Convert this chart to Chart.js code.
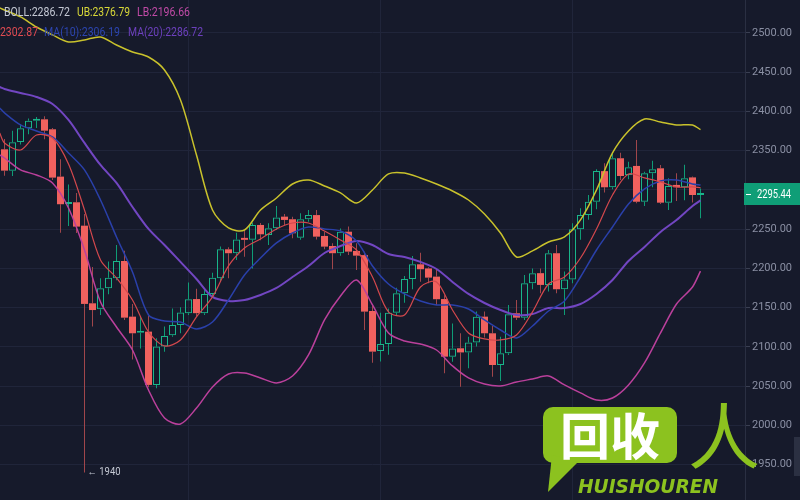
<!DOCTYPE html>
<html>
<head>
<meta charset="utf-8">
<script src="https://cdn.jsdelivr.net/npm/chart.js@4.4.1/dist/chart.umd.min.js"></script>
<style>
html, body { margin: 0; padding: 0; background: #161a2b; }
#wrap { width: 800px; height: 500px; position: relative; }
</style>
</head>
<body>
<div id="wrap"><canvas id="grafico_kline"></canvas></div>
<script>
// velas (indice 0..87)
var openV  = [2351.8,2324.6,2361,2378.6,2388.3,2390,2377.3,2317,2282,2284.3,2254.5,2155.6,2148,2174.8,2187.5,2209.5,2138.6,2118,2119.5,2051.6,2100.4,2115,2128,2143,2161,2143,2167.5,2187.5,2224.4,2219.4,2238.5,2236.4,2255.4,2242.7,2251.2,2266,2262.7,2239.2,2262.7,2268,2241.4,2228.6,2219.4,2246.8,2222.3,2217,2145.8,2094.9,2103.8,2143.7,2168.4,2186.6,2205.3,2200,2189.6,2161,2087.6,2098.3,2093,2105.5,2138.6,2117.4,2077,2092,2142.9,2137.3,2181,2194,2179,2219.4,2173.5,2186,2250,2268,2285,2324,2303.4,2340.4,2319,2330.6,2285,2321.3,2327.6,2283.8,2306.4,2303.4,2316,2293.6];
var highV  = [2365,2375.5,2384,2391,2393,2394,2379,2339,2307,2296,2269.5,2202,2187.5,2208.7,2230,2222.7,2154.8,2139.5,2139.5,2111,2126,2149,2150.5,2182,2174,2172.6,2194.6,2227.8,2227,2245.6,2249,2258.3,2258,2257.5,2279.6,2269.5,2266,2270.3,2274.5,2274.5,2246.8,2232,2251,2253.3,2232,2221.4,2152,2143.7,2149,2175.5,2190.4,2216,2220,2201.5,2199,2166,2130,2117.4,2113,2145,2145,2126.7,2113,2153.5,2159.8,2191.7,2200,2200,2223.6,2230,2196,2257.5,2276.7,2293.6,2326.4,2334,2345.8,2347.5,2336,2363.7,2323.3,2337.3,2331.8,2314.9,2321.3,2332,2317,2302];
var lowV   = [2318,2317.8,2358,2371,2379,2364.5,2312.7,2245.6,2254,2245,1940,2126,2140.7,2167,2185,2134.4,2084,2098,2048.6,2047.4,2094,2113,2117.4,2140.7,2138.6,2140.7,2165,2183,2187.5,2210.8,2215,2200,2236,2230,2249,2255.4,2238.5,2236.4,2259.6,2237,2224.4,2199,2216.3,2217,2198,2121.6,2080,2081.3,2090,2140.7,2156.4,2173.5,2183,2181,2153.5,2066.5,2081,2049.4,2072.7,2100.4,2112,2062,2056.6,2089.8,2134.4,2134.4,2173.5,2168.4,2170.5,2168.4,2140.7,2181,2236.4,2262,2275.4,2296.6,2300.9,2312.7,2313.6,2283,2279.6,2303.4,2282,2274.5,2286,2287,2284,2264];
var closeV = [2324.6,2360.8,2378.6,2388.3,2389.5,2375.5,2315.7,2281.8,2284,2253.3,2154.8,2147,2174.8,2188.3,2209.5,2137.3,2117.4,2120,2051.6,2100.4,2114,2128,2144,2160.8,2143,2167.5,2188.3,2224.4,2219.4,2237,2236.4,2255.4,2243.5,2251.2,2265,2261.8,2244.8,2262.7,2268,2240.5,2227.8,2219.4,2246.8,2221.4,2216.3,2145,2094,2103.8,2143.7,2168.4,2186.6,2205.3,2199,2188.3,2160.8,2087.6,2098,2093,2105.5,2138.6,2117.4,2077,2092,2141.6,2137.3,2181,2194,2179,2219.4,2173.5,2186,2249.9,2268,2285,2324,2303.4,2340.4,2317.8,2328.9,2285,2321.3,2326.4,2283.8,2305,2303.4,2315,2293.6,2295.44];

// linhas, nos indices abaixo
var lineX  = [-0.6,0,2,4,6,8,10,12,14,16,18,20,22,24,26,28,30,32,34,36,38,40,42,44,46,48,50,52,54,56,58,60,62,64,66,68,70,72,74,76,78,80,82,84,86,87];
var ma5    = [2372.6,2359.9,2350.9,2370,2366.2,2333.1,2274.5,2210.8,2187.9,2159.8,2119.1,2101.2,2108.9,2138.2,2163.7,2203.2,2226.1,2237.6,2250.3,2257.9,2257.9,2247.7,2236.3,2223.5,2189.1,2144.6,2140.7,2176.4,2182.8,2147.1,2117.8,2110.2,2108.9,2115.3,2144.6,2180.2,2189.1,2213.3,2250.3,2293.6,2320.4,2315.3,2310.2,2303.8,2303.8,2302.87];
var ma10   = [2404.4,2398.1,2382.8,2375.1,2367.5,2347.1,2325.5,2287.2,2240.1,2195.5,2140.7,2133.1,2131.8,2122.9,2131.8,2159.8,2191.7,2213.3,2232.5,2245.2,2252.8,2250.3,2247.7,2235,2203.2,2180.2,2167.5,2158.6,2153.5,2153.5,2148.4,2134.4,2121.6,2111.4,2126.7,2145.8,2158.6,2189.1,2223.5,2252.8,2282.1,2301.3,2311.4,2312.7,2307.6,2306.19];
var boll   = [2431.2,2428.7,2423.6,2418.5,2409.5,2389.2,2359.9,2331.8,2308.9,2278.3,2250.3,2229.9,2208.3,2186.6,2163.7,2158.6,2159.8,2166.2,2175.1,2189.1,2203.2,2219.7,2228.6,2235,2229.9,2218.4,2214.6,2208.3,2199.3,2182.8,2167.5,2156,2147.1,2140.7,2142,2149.6,2149.6,2154.7,2167.5,2185.3,2209.5,2227.4,2246.5,2261.8,2279.6,2286.72];
var ub     = [2531.9,2529.3,2520.4,2507.6,2497.5,2488.5,2491.1,2494.9,2484.7,2475.8,2469.4,2452.9,2414.6,2344.5,2274.5,2251.6,2249,2274.5,2289.8,2307.6,2312.7,2305.1,2296.2,2283.4,2300,2320.4,2321.6,2315.3,2307.6,2298.7,2287.2,2269.4,2245.2,2214.6,2222.3,2233.7,2240.1,2261.8,2300,2347.1,2375.1,2390.4,2386.6,2382.8,2382.8,2376.79];
var lb     = [2344.6,2340.7,2325.5,2319.1,2308.9,2277,2223.5,2157.3,2125.4,2096.1,2045.2,2009.5,2001.9,2022.2,2049,2065.6,2066.8,2060.5,2054.1,2063,2089.8,2134.4,2164.9,2185.3,2153.5,2117.8,2107.6,2103.8,2096.1,2075.8,2060.5,2052.8,2050.3,2055.4,2059.2,2063,2051.6,2041.4,2032.4,2035,2051.6,2079.6,2117.8,2154.7,2176.4,2196.66];

var yTicks = [1950,2000,2050,2100,2150,2200,2250,2300,2350,2400,2450,2500];
var xGrid  = [23,47,71];

var verde = '#19b58a', verdePavio = '#0f9c76';
var vermelho = '#f0615e', vermelhoPavio = '#a0464b';
var fundo = '#161a2b';

var corpo = [], pavioCima = [], pavioBaixo = [];
for (var i = 0; i < openV.length; i++) {
    var o = openV[i], c = closeV[i];
    corpo.push({x: i, y: [o, c]});
    pavioCima.push({x: i, y: [Math.max(o, c), highV[i]]});
    pavioBaixo.push({x: i, y: [lowV[i], Math.min(o, c)]});
}
function sobe(ctx) { return closeV[ctx.dataIndex] >= openV[ctx.dataIndex]; }
function pontos(arr) { return arr.map(function(v, k) { return {x: lineX[k], y: v}; }); }

function linha(label, arr, cor, largura) {
    return { type: 'line', label: label, data: pontos(arr), borderColor: cor, borderWidth: largura,
             pointRadius: 0, tension: 0.3, fill: false, order: 0 };
}

var enfeites = {
    id: 'enfeites',
    beforeDraw: function(chart) {
        var ctx = chart.ctx;
        ctx.save();
        ctx.fillStyle = fundo;
        ctx.fillRect(0, 0, chart.width, chart.height);
        ctx.restore();
    },
    afterDraw: function(chart) {
        var ctx = chart.ctx, sx = chart.scales.x, sy = chart.scales.y;
        ctx.save();
        // legendas de cima (texto, x, largura, cor)
        ctx.font = '12px Roboto';
        ctx.textBaseline = 'alphabetic';
        var linha1 = [['BOLL:2286.72', 4, 66, '#c3c7d3'], ['UB:2376.79', 77, 53, '#d8d838'], ['LB:2196.66', 137, 53, '#c04aa6']];
        var linha2 = [['2302.87', 0, 38, '#e04b52'], ['MA(10):2306.19', 44, 76, '#2c45b0'], ['MA(20):2286.72', 128, 75, '#6c40bd']];
        linha1.forEach(function(t) { ctx.fillStyle = t[3]; ctx.fillText(t[0], t[1], 16, t[2]); });
        linha2.forEach(function(t) { ctx.fillStyle = t[3]; ctx.fillText(t[0], t[1], 36, t[2]); });

        // minima marcada
        ctx.font = '11px Roboto';
        ctx.fillStyle = '#c5c9d4';
        ctx.textBaseline = 'middle';
        ctx.fillText('\u2190 1940', sx.getPixelForValue(10) + 3, sy.getPixelForValue(1940), 33);

        // preco atual
        var ultimo = closeV[closeV.length - 1];
        var py = Math.round(sy.getPixelForValue(ultimo));
        ctx.fillStyle = '#0f9e77';
        ctx.fillRect(744, py - 11, 56, 22);
        ctx.fillStyle = '#ffffff';
        ctx.fillRect(746, py, 5, 1);
        ctx.font = '12px Roboto';
        ctx.fillText(ultimo.toFixed(2), 757, py + 1, 34);

        // aba lateral
        ctx.fillStyle = '#2b3042';
        ctx.fillRect(794, 437, 6, 39);

        // marca d'agua
        ctx.fillStyle = '#8cc21f';
        ctx.beginPath();
        ctx.roundRect(543, 407, 134, 56, 10);
        ctx.fill();
        ctx.beginPath();
        ctx.moveTo(552, 455); ctx.lineTo(548, 492); ctx.lineTo(578, 462);
        ctx.fill();
        ctx.fillStyle = '#ffffff';
        ctx.font = 'bold 50px "Noto Sans CJK SC"';
        ctx.textAlign = 'center';
        ctx.fillText('\u56de\u6536', 610, 436);
        ctx.fillStyle = '#8cc21f';
        ctx.font = 'italic bold 20px "DejaVu Sans"';
        ctx.fillText('HUISHOUREN', 648, 488, 140);
        ctx.font = '72px "Noto Sans CJK SC"';
        ctx.fillText('\u4eba', 724, 436);
        ctx.restore();
    }
};

var contexto = document.getElementById('grafico_kline').getContext('2d');
var grafico = new Chart(contexto, {
    type: 'bar',
    data: {
        datasets: [
            linha('MA5', ma5, '#d4484d', 1.2),
            linha('MA10', ma10, '#2a40aa', 1.5),
            linha('BOLL', boll, '#7246c2', 2),
            linha('UB', ub, '#c9c22c', 1.5),
            linha('LB', lb, '#bb409c', 1.5),
            { label: 'pavioCima', data: pavioCima, barThickness: 1, grouped: false, order: 2, inflateAmount: 0,
              backgroundColor: function(c) { return sobe(c) ? verdePavio : vermelhoPavio; } },
            { label: 'pavioBaixo', data: pavioBaixo, barThickness: 1, grouped: false, order: 2, inflateAmount: 0,
              backgroundColor: function(c) { return sobe(c) ? verdePavio : vermelhoPavio; } },
            { label: 'corpo', data: corpo, barThickness: 7, grouped: false, order: 1, inflateAmount: 0,
              minBarLength: 2, borderSkipped: false,
              borderWidth: function(c) { return sobe(c) ? 1 : 0; },
              borderColor: function(c) { return sobe(c) ? verde : vermelho; },
              backgroundColor: function(c) { return sobe(c) ? 'rgba(0,0,0,0)' : vermelho; } }
        ]
    },
    options: {
        responsive: true,
        maintainAspectRatio: false,
        animation: false,
        layout: { padding: 0 },
        plugins: { legend: { display: false }, tooltip: { enabled: false } },
        scales: {
            x: {
                type: 'linear', min: -0.5625, max: 92.5625, offset: false,
                ticks: { display: false },
                border: { display: false },
                grid: { color: '#20253a', drawTicks: false, offset: false },
                afterBuildTicks: function(s) { s.ticks = xGrid.map(function(v) { return {value: v}; }); },
                afterFit: function(s) { s.height = 0; s.paddingLeft = 0; s.paddingRight = 0; }
            },
            y: {
                position: 'right', min: 1905, max: 2542,
                border: { display: true, color: '#2a2f42' },
                grid: { color: '#20253a', tickLength: 5, tickColor: '#3a3f52' },
                ticks: { color: '#8a8fa3', padding: 2, font: { family: 'Roboto', size: 11 },
                         callback: function(v) { return v.toFixed(2); } },
                afterBuildTicks: function(s) { s.ticks = yTicks.map(function(v) { return {value: v}; }); },
                afterFit: function(s) { s.width = 55; s.paddingTop = 0; s.paddingBottom = 0; }
            }
        }
    },
    plugins: [enfeites]
});
</script>
</body>
</html>
